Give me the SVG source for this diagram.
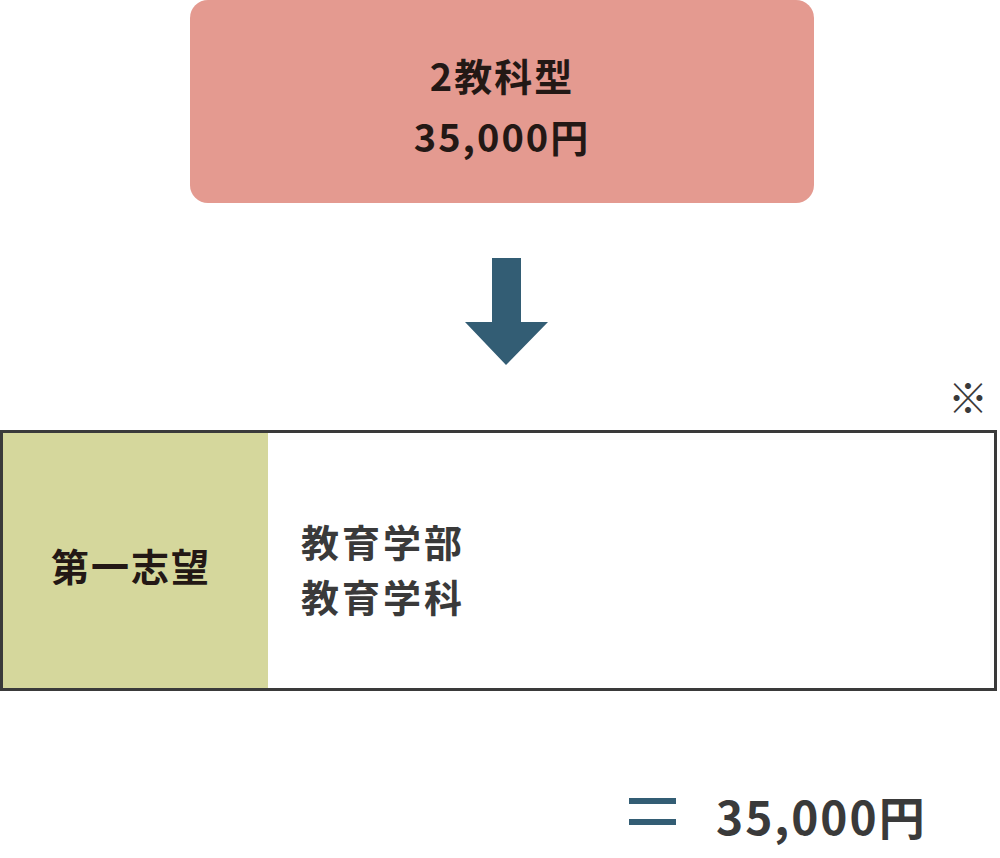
<svg xmlns="http://www.w3.org/2000/svg" width="1000" height="858" viewBox="0 0 1000 858">
<style>
.t{font-family:"Noto Sans CJK JP","Noto Sans",sans-serif;font-weight:bold}
</style>
<rect width="1000" height="858" fill="#fff"/>
<g id="top">
<rect x="190" y="0" width="624" height="203" rx="18" fill="#e49a90"/>
<text class="t" x="502" y="91" font-size="38" text-anchor="middle" fill="#231815" letter-spacing="2">2教科型</text>
<text class="t" x="502" y="152" font-size="38" text-anchor="middle" fill="#231815" letter-spacing="2">35,000円</text>
</g>
<g id="connectors">
<polygon points="492,258 521,258 521,322 548,322 506,365 465,322 492,322" fill="#335d74"/>
</g>
<g id="note"><text class="t" x="968" y="413" font-size="40" text-anchor="middle" fill="#3a3a3a" font-weight="normal">※</text></g>
<g id="table">
<rect x="1.5" y="431.5" width="994" height="258" fill="#fff" stroke="#3a3a3a" stroke-width="3"/>
<rect x="3" y="433" width="265" height="255" fill="#d5d79c"/>
<text class="t" x="131" y="581" font-size="38" text-anchor="middle" fill="#231815" letter-spacing="2">第一志望</text>
<text class="t" x="301" y="557" font-size="38" fill="#3a3a3a" letter-spacing="3">教育学部</text>
<text class="t" x="301" y="612" font-size="38" fill="#3a3a3a" letter-spacing="3">教育学科</text>
</g>
<g id="total">
<rect x="629" y="798" width="47" height="6" fill="#335d74"/>
<rect x="629" y="819" width="47" height="6" fill="#335d74"/>
<text class="t" x="716" y="835" font-size="46" fill="#3a3a3a" letter-spacing="2">35,000円</text>
</g>
</svg>
